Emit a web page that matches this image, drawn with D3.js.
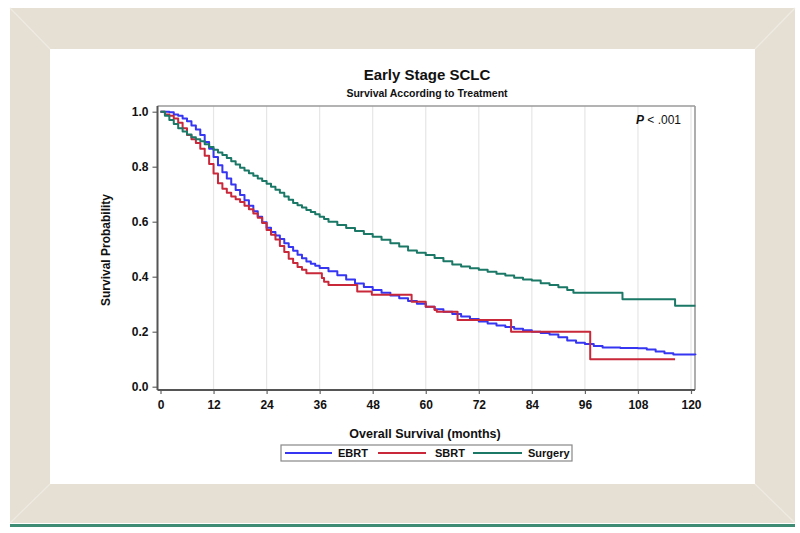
<!DOCTYPE html>
<html><head><meta charset="utf-8">
<script src="https://cdn.jsdelivr.net/npm/d3@7"></script>
<style>body{margin:0;background:#fff}svg{display:block}</style>
</head><body>
<svg id="c" width="800" height="533"></svg>
<script>
const xTicks = [0,12,24,36,48,60,72,84,96,108,120];
const yTicks = [0.0,0.2,0.4,0.6,0.8,1.0];
const seriesNames = ["EBRT","SBRT","Surgery"];
const seriesColors = ["#3535f2","#c8283a","#1b7866"];

const ebrt = [[0,1],[1,1],[2,0.998],[3,0.99],[4,0.985],[5,0.975],[6,0.965],[7,0.95],[8,0.935],[9,0.915],[10,0.89],[11,0.865],[12,0.835],[13,0.805],[14,0.78],[15,0.757],[16,0.735],[17,0.715],[18,0.697],[19,0.678],[20,0.658],[21,0.638],[22,0.618],[23,0.598],[24,0.578],[25,0.563],[26,0.55],[27,0.537],[28,0.522],[29,0.508],[30,0.494],[31,0.48],[32,0.467],[33,0.455],[34,0.447],[35,0.44],[36,0.432],[38,0.42],[40,0.405],[42,0.39],[44,0.375],[46,0.363],[48,0.352],[50,0.342],[52,0.332],[54,0.322],[56,0.312],[58,0.302],[60,0.291],[62,0.282],[64,0.273],[66,0.264],[68,0.255],[70,0.246],[72,0.237],[74,0.23],[76,0.223],[78,0.217],[80,0.211],[82,0.205],[84,0.2],[86,0.195],[88,0.19],[90,0.18],[92,0.168],[94,0.16],[96,0.155],[98,0.148],[100,0.143],[104,0.141],[108,0.14],[110,0.135],[112,0.128],[114,0.122],[116,0.117],[121,0.115]];

const sbrt = [[0,1.0],[1,0.99],[2,0.985],[3,0.975],[4,0.96],[5,0.94],[6,0.915],[7,0.9],[8,0.886],[9,0.865],[10,0.84],[11,0.81],[12,0.775],[13,0.74],[14,0.72],[15,0.705],[16,0.692],[17,0.682],[18,0.672],[19,0.658],[20,0.645],[21,0.63],[22,0.614],[23,0.595],[24,0.57],[25,0.553],[26,0.535],[27,0.512],[28,0.49],[29,0.465],[30,0.45],[31,0.435],[32,0.425],[33,0.413],[36.5,0.395],[37,0.382],[38,0.37],[44.5,0.346],[47.8,0.334],[56.8,0.309],[60,0.291],[62,0.279],[62.5,0.273],[67.2,0.243],[79.3,0.2],[97.2,0.1],[116.4,0.1]];

const surgery = [[0,1],[1,0.985],[2,0.97],[3,0.955],[4,0.94],[5,0.928],[6,0.917],[7,0.907],[8,0.9],[9,0.893],[10,0.882],[11,0.872],[12,0.862],[13,0.852],[14,0.843],[15,0.832],[16,0.82],[17,0.808],[18,0.796],[19,0.786],[20,0.776],[21,0.767],[22,0.757],[23,0.748],[24,0.738],[25,0.727],[26,0.716],[27,0.705],[28,0.692],[29,0.68],[30,0.668],[31,0.66],[32,0.652],[33,0.643],[34,0.635],[35,0.627],[36,0.618],[37,0.61],[38,0.6],[40,0.588],[42,0.577],[44,0.566],[46,0.555],[48,0.545],[50,0.534],[52,0.522],[54,0.51],[56,0.495],[58,0.487],[60,0.479],[62,0.468],[64,0.456],[66,0.444],[68,0.437],[70,0.431],[72,0.425],[74,0.418],[76,0.411],[78,0.404],[80,0.396],[82,0.39],[84,0.386],[86,0.376],[88,0.37],[90,0.362],[92,0.352],[93.4,0.342],[104.5,0.318],[116.4,0.294],[121,0.294]];

const allSeries = [ebrt, sbrt, surgery];

const svg = d3.select("#c");
const font = "'Liberation Sans', Arial, sans-serif";

// outer beige frame
const F = {x0:10,y0:8,x1:795,y1:523}, I = {x0:50,y0:49,x1:755,y1:484};
svg.append("rect").attr("x",F.x0).attr("y",F.y0).attr("width",F.x1-F.x0).attr("height",F.y1-F.y0).attr("fill","#e6e0d4");
svg.append("rect").attr("x",I.x0).attr("y",I.y0).attr("width",I.x1-I.x0).attr("height",I.y1-I.y0).attr("fill","#fff");
[[F.x0,F.y0,I.x0,I.y0],[F.x1,F.y0,I.x1,I.y0],[F.x0,F.y1,I.x0,I.y1],[F.x1,F.y1,I.x1,I.y1]].forEach(d=>{
  svg.append("line").attr("x1",d[0]).attr("y1",d[1]).attr("x2",d[2]).attr("y2",d[3]).attr("stroke","#efebe3").attr("stroke-width",1.2);
});
svg.append("rect").attr("x",F.x0).attr("y",F.y1+1).attr("width",F.x1-F.x0).attr("height",3).attr("fill","#3f8c74");

// scales
const x = d3.scaleLinear().domain([0,120]).range([160.5,691]);
const y = d3.scaleLinear().domain([0,1]).range([386.7,111.7]);
const P = {l:157.5,r:695,t:106,b:390};

// grid
svg.append("g").selectAll("line").data(xTicks.filter(d=>d>0)).join("line")
  .attr("x1",d=>x(d)).attr("x2",d=>x(d)).attr("y1",P.t).attr("y2",P.b)
  .attr("stroke","#e6e6e6").attr("stroke-width",1.2);

// frame
svg.append("line").attr("x1",P.l).attr("x2",P.r).attr("y1",P.t).attr("y2",P.t).attr("stroke","#9a9a9a").attr("stroke-width",1.6);
svg.append("line").attr("x1",P.r).attr("x2",P.r).attr("y1",P.t).attr("y2",P.b).attr("stroke","#9a9a9a").attr("stroke-width",1.6);

// axes
const xAxis = svg.append("g").attr("transform",`translate(0,${P.b})`)
  .call(d3.axisBottom(x).tickValues(xTicks).tickSize(5).tickSizeOuter(0).tickFormat(d3.format("d")));
const yAxis = svg.append("g").attr("transform",`translate(${P.l},0)`)
  .call(d3.axisLeft(y).tickValues(yTicks).tickSize(5).tickSizeOuter(0).tickFormat(d3.format(".1f")));
[xAxis,yAxis].forEach(a=>{
  a.select(".domain").remove();
  a.selectAll(".tick line").attr("stroke","#666").attr("stroke-width",1.2);
  a.selectAll(".tick text").attr("font-family",font).attr("font-weight","bold").attr("font-size","12px").attr("fill","#111");
});
xAxis.selectAll(".tick line").attr("transform","translate(0,-1)");
xAxis.selectAll(".tick text").attr("dy","0.95em");
yAxis.selectAll(".tick text").attr("dx","-1px");
svg.append("line").attr("x1",P.l).attr("x2",P.l).attr("y1",P.t).attr("y2",P.b).attr("stroke","#555").attr("stroke-width",2);
svg.append("line").attr("x1",P.l).attr("x2",P.r).attr("y1",P.b).attr("y2",P.b).attr("stroke","#555").attr("stroke-width",2);

// curves
const line = d3.line().x(d=>x(d[0])).y(d=>y(d[1])).curve(d3.curveStepAfter);
allSeries.forEach((s,i)=>{
  svg.append("path").datum(s).attr("d",line).attr("fill","none")
    .attr("stroke",seriesColors[i]).attr("stroke-width",2).attr("stroke-linejoin","round");
});

// texts
svg.append("text").attr("x",427).attr("y",80).attr("text-anchor","middle").attr("font-family",font)
  .attr("font-weight","bold").attr("font-size","15px").attr("fill","#111").text("Early Stage SCLC");
svg.append("text").attr("x",427).attr("y",96.5).attr("text-anchor","middle").attr("font-family",font)
  .attr("font-weight","bold").attr("font-size","10.5px").attr("fill","#111").text("Survival According to Treatment");
const pt = svg.append("text").attr("x",681).attr("y",124).attr("text-anchor","end").attr("font-family",font)
  .attr("font-size","12px").attr("fill","#111");
pt.append("tspan").attr("font-style","italic").attr("font-weight","bold").text("P");
pt.append("tspan").text(" < .001");
svg.append("text").attr("transform","translate(110,250) rotate(-90)").attr("text-anchor","middle")
  .attr("font-family",font).attr("font-weight","bold").attr("font-size","12px").attr("fill","#111").text("Survival Probability");
svg.append("text").attr("x",425).attr("y",438).attr("text-anchor","middle").attr("font-family",font)
  .attr("font-weight","bold").attr("font-size","12.5px").attr("fill","#111").text("Overall Survival (months)");

// legend
const lg = svg.append("g");
lg.append("rect").attr("x",281).attr("y",445).attr("width",291).attr("height",16).attr("fill","#fff").attr("stroke","#888").attr("stroke-width",1.2);
const legX = [[285,332,338],[378,426,435],[473,522,528]];
seriesNames.forEach((n,i)=>{
  lg.append("line").attr("x1",legX[i][0]).attr("x2",legX[i][1]).attr("y1",453).attr("y2",453).attr("stroke",seriesColors[i]).attr("stroke-width",2);
  lg.append("text").attr("x",legX[i][2]).attr("y",457).attr("font-family",font).attr("font-weight","bold").attr("font-size","11px").attr("fill","#111").text(n);
});
</script>
</body></html>
